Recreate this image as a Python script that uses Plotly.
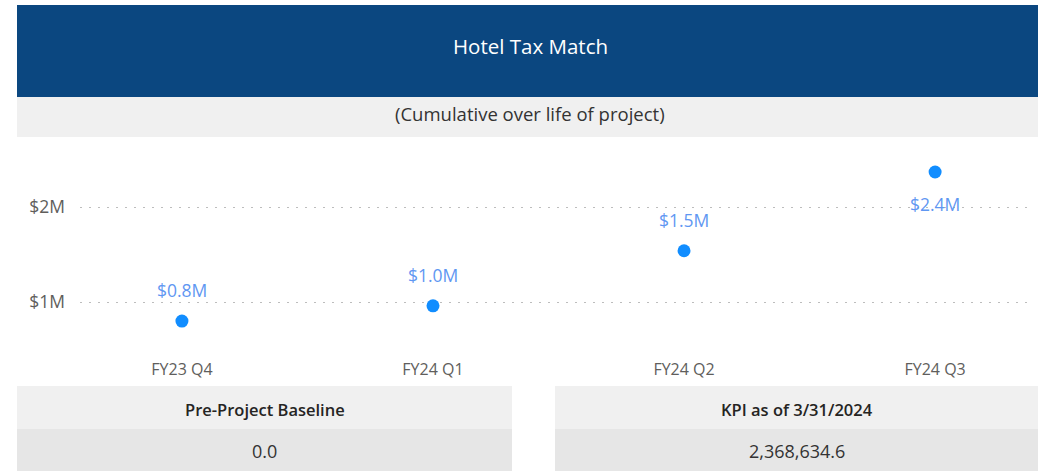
import plotly.graph_objects as go

# Quarterly cumulative hotel tax match (USD)
quarters = ["FY23 Q4", "FY24 Q1", "FY24 Q2", "FY24 Q3"]
cumulative_match = [800000, 960000, 1540000, 2368634.6]
label_above = [True, True, True, False]

y_tick_values = [1000000, 2000000]
y_tick_labels = ["$1M", "$2M"]

baseline_value = 0.0
kpi_value = 2368634.6
kpi_date = "3/31/2024"

title_text = "Hotel Tax Match"
subtitle_text = "(Cumulative over life of project)"

W, H = 1038, 471
ML, MR, MT, MB = 80, 8, 145, 121
PW, PH = W - ML - MR, H - MT - MB

FONT = "Open Sans, sans-serif"


def px(x):
    return (x - ML) / PW


def py(y):
    return (H - MB - y) / PH


def fmt_millions(v):
    return f"${v / 1e6:.1f}M"


fig = go.Figure(
    go.Scatter(
        x=quarters,
        y=cumulative_match,
        mode="markers",
        marker=dict(size=13, color="#118DFF"),
        cliponaxis=False,
        hoverinfo="skip",
    )
)

shapes = []
annotations = []

# Data labels for each point
for q, v, above in zip(quarters, cumulative_match, label_above):
    annotations.append(dict(x=q, y=v, xref="x", yref="y", text=fmt_millions(v), showarrow=False,
                            xanchor="center", yanchor="middle", yshift=31 if above else -32,
                            font=dict(family=FONT, size=17.5, color="#5F97F2")))

# Header band and subtitle strip
shapes.append(dict(type="rect", xref="paper", yref="paper", x0=px(17), x1=px(1038),
                   y0=py(97), y1=py(5), fillcolor="#0B4780", line_width=0, layer="below"))
shapes.append(dict(type="rect", xref="paper", yref="paper", x0=px(17), x1=px(1038),
                   y0=py(137), y1=py(97), fillcolor="#F0F0F0", line_width=0, layer="below"))
annotations.append(dict(xref="paper", yref="paper", x=px(530), y=py(46), text=title_text,
                        xanchor="center", yanchor="middle", showarrow=False,
                        font=dict(family=FONT, size=20.5, color="#FFFFFF")))
annotations.append(dict(xref="paper", yref="paper", x=px(530), y=py(113), text=subtitle_text,
                        xanchor="center", yanchor="middle", showarrow=False,
                        font=dict(family=FONT, size=18.5, color="#333333")))

# Summary cards
cards = [
    (17, 512, "Pre-Project Baseline", f"{baseline_value:,.1f}"),
    (555, 1038, f"KPI as of {kpi_date}", f"{kpi_value:,.1f}"),
]
for x0, x1, head, val in cards:
    shapes.append(dict(type="rect", xref="paper", yref="paper", x0=px(x0), x1=px(x1),
                       y0=py(429), y1=py(386), fillcolor="#F0F0F0", line_width=0))
    shapes.append(dict(type="rect", xref="paper", yref="paper", x0=px(x0), x1=px(x1),
                       y0=py(471), y1=py(429), fillcolor="#E6E6E6", line_width=0))
    cx = (x0 + x1) / 2
    annotations.append(dict(xref="paper", yref="paper", x=px(cx), y=py(409), text=head,
                            xanchor="center", yanchor="middle", showarrow=False,
                            font=dict(family=FONT, size=16.5, color="#252423", weight=600)))
    annotations.append(dict(xref="paper", yref="paper", x=px(cx), y=py(451), text=val,
                            xanchor="center", yanchor="middle", showarrow=False,
                            font=dict(family=FONT, size=18, color="#333333")))

fig.update_layout(
    width=W,
    height=H,
    margin=dict(l=ML, r=MR, t=MT, b=MB),
    paper_bgcolor="#FFFFFF",
    plot_bgcolor="#FFFFFF",
    showlegend=False,
    shapes=shapes,
    annotations=annotations,
    xaxis=dict(
        type="category",
        range=[-0.406, 3.378],
        showgrid=False,
        zeroline=False,
        showline=False,
        ticks="",
        ticklabelstandoff=8,
        tickfont=dict(family=FONT, size=16, color="#605E5C"),
        fixedrange=True,
    ),
    yaxis=dict(
        range=[495000, 2653000],
        tickvals=y_tick_values,
        ticktext=y_tick_labels,
        showgrid=True,
        gridcolor="#BDBDBD",
        griddash="2px,7px",
        gridwidth=1,
        zeroline=False,
        showline=False,
        ticks="",
        ticklabelstandoff=14,
        tickfont=dict(family=FONT, size=17.5, color="#605E5C"),
        fixedrange=True,
    ),
)

fig.write_html("out.html", config={"displayModeBar": False})
